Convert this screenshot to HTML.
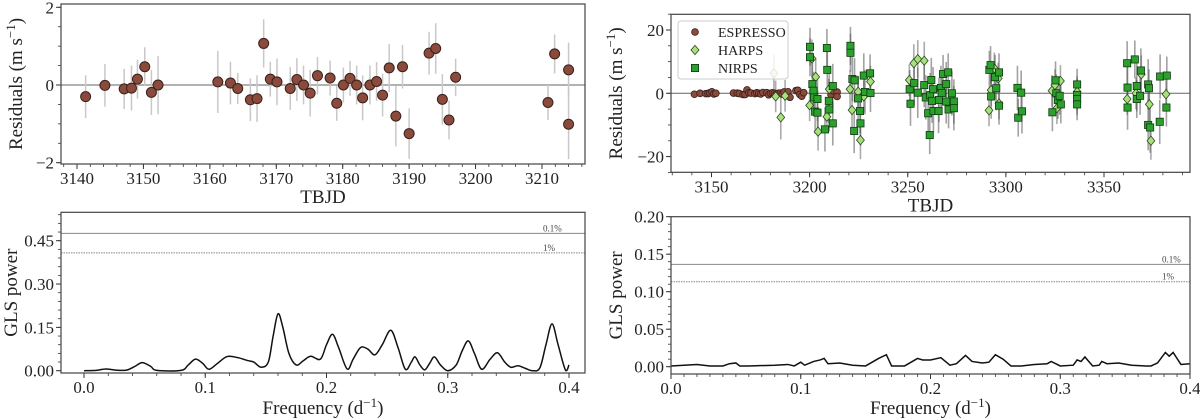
<!DOCTYPE html>
<html><head><meta charset="utf-8">
<style>
html,body{margin:0;padding:0;background:#fff;overflow:hidden;}
svg{display:block;font-family:"Liberation Serif","DejaVu Serif",serif;}
</style></head>
<body>
<svg id="fig" width="1200" height="420" viewBox="0 0 1200 420" xmlns="http://www.w3.org/2000/svg"></svg>
<script>
// ESPRESSO residuals
const espT=[3141.3,3144.2,3147.1,3148.2,3149.1,3150.2,3151.2,3152.2,3161.2,3163.1,3164.2,3166.1,3167.1,3168.1,3169.1,3170.1,3172.1,3173.1,3174.1,3175.1,3176.2,3178.1,3179.1,3180.1,3181.1,3182.1,3183.0,3184.1,3185.1,3186.0,3187.0,3188.0,3189.0,3190.0,3193.0,3194.0,3195.0,3196.0,3197.0,3210.9,3211.9,3214.0,3214.0];
const espR=[-0.30,-0.01,-0.10,-0.08,0.15,0.47,-0.19,0.0,0.08,0.05,-0.09,-0.38,-0.35,1.07,0.15,0.08,-0.09,0.14,0.0,-0.21,0.24,0.18,-0.47,0.0,0.17,0.0,-0.33,0.0,0.09,-0.26,0.44,-0.80,0.47,-1.25,0.82,0.94,-0.37,-0.90,0.20,-0.45,0.80,0.39,-1.01];
const espE=[0.55,0.55,0.52,0.58,0.5,0.5,0.58,0.75,0.8,0.55,0.4,0.55,0.6,0.62,0.45,0.6,0.55,0.55,0.5,0.6,0.48,0.45,0.45,0.45,0.45,0.5,0.58,0.5,0.5,0.55,0.62,0.78,0.56,0.65,0.55,0.65,0.65,0.5,0.48,0.45,0.5,0.7,0.9];
// HARPS residuals
const harpsT=[3181.8,3182.7,3185.3,3187.5,3200.0,3201.2,3203.1,3204.3,3208.8,3210.0,3220.6,3221.6,3224.7,3225.9,3227.6,3231.0,3250.8,3253.1,3255.1,3258.4,3291.4,3292.5,3294.1,3296.1,3296.5,3323.5,3325.0,3326.0,3327.8,3336.3,3361.8,3366.3,3369.0,3373.1,3373.9,3381.6];
const harpsR=[6.3,-1.0,-7.6,-0.8,-3.8,11.0,5.2,-12.1,-7.4,1.3,1.3,-5.3,0.5,-14.8,-1.0,3.7,4.2,9.5,10.8,10.3,-5.4,1.0,7.9,4.7,-3.2,0.8,2.6,-4.7,3.9,0.5,-1.8,0.0,6.0,-3.5,-15.0,-0.3];
const harpsE=[6,5,7,5,5,6,6,6,5,5,6,6,5,6,5,5,5,6,6,6,5,5,5,5,5,5,5,5,5,5,5,5,6,6,6,5];
// NIRPS residuals
const nirpsT=[3200.2,3200.2,3201.4,3202.0,3202.2,3202.8,3204.0,3204.0,3207.8,3208.8,3209.0,3209.8,3210.0,3211.8,3211.8,3220.8,3220.8,3221.8,3222.9,3222.7,3224.7,3225.7,3225.9,3227.6,3228.2,3230.8,3231.0,3251.0,3251.4,3253.3,3255.1,3258.4,3259.2,3260.4,3261.2,3261.4,3262.0,3262.4,3262.9,3263.1,3265.7,3265.9,3266.9,3267.3,3268.0,3269.6,3269.6,3270.6,3270.8,3272.5,3273.5,3273.5,3291.6,3292.2,3292.5,3294.5,3295.1,3296.5,3296.5,3305.9,3306.3,3307.8,3308.2,3323.7,3325.3,3325.7,3326.5,3327.4,3328.0,3336.3,3336.3,3336.3,3336.3,3361.8,3362.0,3362.0,3365.7,3366.7,3366.7,3368.4,3368.8,3372.5,3372.9,3372.5,3373.5,3378.4,3378.6,3382.0,3381.8];
const nirpsR=[14.7,11.4,2.9,0.8,-1.3,-5.8,-1.8,-6.1,-11.4,14.3,7.4,-2.4,-5.1,2.3,-9.5,15.0,12.8,4.5,4.1,-11.9,-1.6,-5.6,-9.5,5.6,0.4,6.3,0.1,1.3,-3.3,3.2,0.2,2.6,-1.3,-6.3,-13.2,-0.6,4.2,-2.4,1.3,-5.6,-5.6,-2.1,1.7,0.1,6.1,2.9,-2.6,6.6,-5.1,0.0,-2.6,-4.7,7.4,8.9,-1.0,5.1,1.6,6.6,-3.9,1.7,-7.7,0.2,-5.7,-6.0,4.1,0.0,-2.1,-0.8,-3.5,2.8,-0.5,-1.8,-3.5,9.5,1.8,-4.5,10.7,2.3,-1.8,-0.8,7.2,2.8,1.6,-10.0,-10.8,-9.0,5.3,5.6,-4.5];
const nirpsE=[6,6,7,6,6,7,7,7,7,6,7,7,7,7,7,6,6,7,7,7,7,7,7,7,7,6,6,6,7,7,8,7,7,7,6,7,7,7,7,7,7,7,7,7,6,7,7,6,6,7,7,7,6,6,7,7,7,6,6,7,6,7,7,6,6,6,6,6,6,5,5,5,5,7,7,7,6,8,6,6,7,8,6,8,8,7,7,6,6];
// GLS periodogram of ESPRESSO residuals
const freqL=[0,0.01,0.018,0.026,0.035,0.042,0.048,0.055,0.06,0.08,0.086,0.092,0.098,0.103,0.11,0.118,0.127,0.135,0.14,0.146,0.152,0.156,0.16,0.164,0.169,0.175,0.181,0.187,0.195,0.2,0.205,0.21,0.217,0.222,0.228,0.234,0.24,0.246,0.253,0.259,0.265,0.27,0.273,0.277,0.281,0.285,0.289,0.294,0.3,0.307,0.312,0.317,0.322,0.328,0.335,0.341,0.347,0.352,0.358,0.364,0.37,0.376,0.381,0.386,0.391,0.397,0.4];
const powL=[0,0.001,0.006,0.002,0.002,0.015,0.028,0.015,0.001,0.001,0.02,0.04,0.025,0.005,0.025,0.049,0.045,0.035,0.03,0.012,0.03,0.12,0.197,0.15,0.06,0.02,0.035,0.05,0.04,0.09,0.126,0.08,0.006,0.04,0.08,0.075,0.055,0.09,0.14,0.08,0.005,0.03,0.048,0.02,0.003,0.025,0.048,0.02,0.0,0.02,0.07,0.103,0.06,0.005,0.04,0.062,0.03,0.012,0.017,0.008,0.0,0.01,0.09,0.162,0.09,0.003,0.02];
const fapL=[0.4755,0.408];
// GLS periodogram of all residuals
const freqR=[0,0.01,0.02,0.03,0.04,0.045,0.05,0.053,0.06,0.08,0.09,0.095,0.1,0.103,0.11,0.115,0.118,0.121,0.13,0.14,0.15,0.16,0.166,0.17,0.18,0.19,0.194,0.2,0.208,0.215,0.22,0.227,0.232,0.24,0.245,0.25,0.256,0.262,0.27,0.28,0.29,0.293,0.3,0.31,0.313,0.316,0.319,0.325,0.33,0.332,0.336,0.345,0.355,0.365,0.37,0.375,0.381,0.384,0.387,0.393,0.4];
const powR=[0.001,0.002,0.003,0.001,0.001,0.004,0.005,0.001,0.001,0.002,0.003,0.001,0.006,0.002,0.007,0.009,0.011,0.004,0.005,0.002,0.001,0.011,0.016,0.001,0.001,0.011,0.009,0.009,0.012,0.002,0.004,0.015,0.007,0.005,0.006,0.016,0.01,0.001,0.001,0.003,0.004,0.007,0.001,0.002,0.009,0.007,0.013,0.001,0.002,0.007,0.004,0.005,0.002,0.001,0.001,0.005,0.019,0.014,0.019,0.003,0.004];
const fapR=[0.1365,0.1133];
const fapLabels=['0.1%','1%'];

const NS='http://www.w3.org/2000/svg';
const svg=document.getElementById('fig');
function mk(tag,attrs,parent){const e=document.createElementNS(NS,tag);for(const k in attrs)e.setAttribute(k,attrs[k]);(parent||svg).appendChild(e);return e;}
function lin(d0,d1,r0,r1){return v=>r0+(v-d0)*(r1-r0)/(d1-d0);}

function axes(p){
  const g=mk('g',{});
  
  
  const x=lin(p.xd[0],p.xd[1],p.xr[0],p.xr[1]);
  const y=lin(p.yd[0],p.yd[1],p.yr[0],p.yr[1]);
  const L=p.box[0],R=p.box[1],T=p.box[2],B=p.box[3];
  if(p.xminor){for(let v=p.xminor[0];v<=p.xminor[1]+1e-9;v+=p.xminor[2]){const px=x(v);if(px<L-0.5||px>R+0.5)continue;mk('line',{x1:px,x2:px,y1:B,y2:B+3,stroke:'#333','stroke-width':0.8},g);}}
  p.xticks.forEach((v,i)=>{const px=x(v);mk('line',{x1:px,x2:px,y1:B,y2:B+5,stroke:'#333','stroke-width':1},g);
    const t=mk('text',{x:px,y:B+20,'text-anchor':'middle','font-size':17,fill:'#222'},g);t.textContent=p.xlabels[i];
    
    });
  if(p.yminor){for(let v=p.yminor[0];v<=p.yminor[1]+1e-9;v+=p.yminor[2]){const py=y(v);if(py<T-0.5||py>B+0.5)continue;mk('line',{x1:L,x2:L-3,y1:py,y2:py,stroke:'#333','stroke-width':0.8},g);}}
  p.yticks.forEach((v,i)=>{const py=y(v);mk('line',{x1:L,x2:L-5,y1:py,y2:py,stroke:'#333','stroke-width':1},g);
    const t=mk('text',{x:L-7,y:py+6,'text-anchor':'end','font-size':17,fill:'#222'},g);t.textContent=p.ylabels[i];
    
    });
  const xt=mk('text',{x:(L+R)/2,y:B+p.xtdy,'text-anchor':'middle','font-size':19,fill:'#222'},g);xt.innerHTML=p.xtitle;
  
  
  const yt=mk('text',{x:0,y:0,'text-anchor':'middle','font-size':19,fill:'#222',transform:`translate(${p.ytx},${(T+B)/2}) rotate(-90)`},g);yt.innerHTML=p.ytitle;
  
  
  return {g,x,y,L,R,T,B};
}
function frame(a){const r=mk('rect',{x:a.L,y:a.T,width:a.R-a.L,height:a.B-a.T,fill:'none',stroke:'#444','stroke-width':1.2},a.g);
  
  }
function clip(a,id){const cp=mk('clipPath',{id});mk('rect',{x:a.L,y:a.T,width:a.R-a.L,height:a.B-a.T},cp);return `url(#${id})`;}
const YT='Residuals (m s<tspan dy="-7" font-size="13">−1</tspan><tspan dy="7">)</tspan>';
const FT='Frequency (d<tspan dy="-7" font-size="13">−1</tspan><tspan dy="7">)</tspan>';

// ---------- Top-left ----------
{
const a=axes({name:'espresso-residuals-panel',xd:[3140,3210],xr:[77,542],yd:[0,2],yr:[85,7.3],box:[61,585,4,164],
  xticks:[3140,3150,3160,3170,3180,3190,3200,3210],xlabels:['3140','3150','3160','3170','3180','3190','3200','3210'],xminor:[3138,3216,2],
  yticks:[-2,0,2],ylabels:['−2','0','2'],yminor:[-2,2,0.5],xtitle:'TBJD',xtdy:39,ytitle:YT,ytx:22});
const cg=mk('g',{'clip-path':clip(a,'c1')},a.g);
mk('line',{x1:a.L,x2:a.R,y1:a.y(0),y2:a.y(0),stroke:'#999','stroke-width':1.5},cg);
espT.forEach((t,i)=>{const l=mk('line',{x1:a.x(t),x2:a.x(t),y1:a.y(espR[i]-espE[i]),y2:a.y(espR[i]+espE[i]),stroke:'#c8c8c8','stroke-width':1.5},cg);
  
  });
espT.forEach((t,i)=>{const c=mk('circle',{cx:a.x(t),cy:a.y(espR[i]),r:5,fill:'#8a4a3c',stroke:'#3a201a','stroke-width':1},cg);
  
  });
frame(a);
}
// ---------- Top-right ----------
{
const a=axes({name:'all-residuals-panel',xd:[3150,3350],xr:[711.5,1104],yd:[0,20],yr:[93.3,30],box:[671,1190,14.3,172.3],
  xticks:[3150,3200,3250,3300,3350],xlabels:['3150','3200','3250','3300','3350'],xminor:[3130,3400,10],
  yticks:[-20,0,20],ylabels:['−20','0','20'],yminor:[-25,25,5],xtitle:'TBJD',xtdy:39,ytitle:YT,ytx:622});
const cg=mk('g',{'clip-path':clip(a,'c2')},a.g);
mk('line',{x1:a.L,x2:a.R,y1:a.y(0),y2:a.y(0),stroke:'#666','stroke-width':1},cg);
const eb=(T,R,E,col)=>T.forEach((t,i)=>{const l=mk('line',{x1:a.x(t),x2:a.x(t),y1:a.y(R[i]-E[i]),y2:a.y(R[i]+E[i]),stroke:col,'stroke-width':1.6,'stroke-opacity':0.55},cg);
  
  });
eb(espT,espR,espE,'#777');eb(harpsT,harpsR,harpsE,'#666');eb(nirpsT,nirpsR,nirpsE,'#555');
espT.forEach((t,i)=>{const c=mk('circle',{cx:a.x(t),cy:a.y(espR[i]),r:3.4,fill:'#8a4a3c',stroke:'#3a201a','stroke-width':0.8},cg);
  
  });
harpsT.forEach((t,i)=>{const cx=a.x(t),cy=a.y(harpsR[i]),s=4.6;const d=mk('polygon',{points:`${cx},${cy-s} ${cx+s*0.85},${cy} ${cx},${cy+s} ${cx-s*0.85},${cy}`,fill:'#a8e07f',stroke:'#2a4a1a','stroke-width':0.8},cg);
  
  });
nirpsT.forEach((t,i)=>{const cx=a.x(t),cy=a.y(nirpsR[i]),s=3.6;const q=mk('rect',{x:cx-s,y:cy-s,width:2*s,height:2*s,fill:'#2ca02c',stroke:'#0f3a0f','stroke-width':0.8},cg);
  
  });
const lg=mk('g',{},a.g);


mk('rect',{x:678,y:21,width:110,height:58,rx:3,fill:'#fff','fill-opacity':0.85,stroke:'#ccc','stroke-width':1},lg);
const names=['ESPRESSO','HARPS','NIRPS'];
names.forEach((n,i)=>{const yy=32+i*18;const e=mk('g',{},lg);
  
  
  const cx=695;
  if(i===0)mk('circle',{cx,cy:yy,r:3.4,fill:'#8a4a3c',stroke:'#3a201a','stroke-width':0.8},e);
  if(i===1)mk('polygon',{points:`${cx},${yy-4.6} ${cx+4},${yy} ${cx},${yy+4.6} ${cx-4},${yy}`,fill:'#a8e07f',stroke:'#2a4a1a','stroke-width':0.8},e);
  if(i===2)mk('rect',{x:cx-3.6,y:yy-3.6,width:7.2,height:7.2,fill:'#2ca02c',stroke:'#0f3a0f','stroke-width':0.8},e);
  const t=mk('text',{x:718,y:yy+5,'font-size':14,fill:'#222'},e);t.textContent=n;});
frame(a);
}
function smooth(pts){let d=`M${pts[0][0]},${pts[0][1]}`;for(let i=0;i<pts.length-1;i++){const p0=pts[Math.max(0,i-1)],p1=pts[i],p2=pts[i+1],p3=pts[Math.min(pts.length-1,i+2)];
  const c1=[p1[0]+(p2[0]-p0[0])/6,p1[1]+(p2[1]-p0[1])/6],c2=[p2[0]-(p3[0]-p1[0])/6,p2[1]-(p3[1]-p1[1])/6];
  d+=` C${c1[0]},${c1[1]} ${c2[0]},${c2[1]} ${p2[0]},${p2[1]}`;}return d;}
// ---------- Bottom-left ----------
{
const a=axes({name:'espresso-periodogram-panel',xd:[0,0.4],xr:[84,569],yd:[0,0.45],yr:[370.7,240.7],box:[61,585,212.3,373],
  xticks:[0,0.1,0.2,0.3,0.4],xlabels:['0.0','0.1','0.2','0.3','0.4'],xminor:[-0.02,0.42,0.02],
  yticks:[0,0.15,0.30,0.45],ylabels:['0.00','0.15','0.30','0.45'],yminor:[0,0.54,0.03],xtitle:FT,xtdy:41,ytitle:'GLS power',ytx:17});
fapL.forEach((v,i)=>{const l=mk('line',{x1:a.L,x2:a.R,y1:a.y(v),y2:a.y(v),stroke:'#888','stroke-width':1,'stroke-dasharray':i?'1.5,1':'none'},a.g);
  
  
  const t=mk('text',{x:543,y:a.y(v)-2,'font-size':9,fill:'#444'},a.g);t.textContent=fapLabels[i];});
const p=mk('path',{d:smooth(freqL.map((f,i)=>[a.x(f),a.y(powL[i])])),fill:'none',stroke:'#111','stroke-width':1.5},a.g);


frame(a);
}
// ---------- Bottom-right ----------
{
const a=axes({name:'all-periodogram-panel',xd:[0,0.4],xr:[671,1190],yd:[0,0.2],yr:[366.7,216.7],box:[671,1190,216.7,374],
  xticks:[0,0.1,0.2,0.3,0.4],xlabels:['0.0','0.1','0.2','0.3','0.4'],xminor:[0,0.4,0.01],
  yticks:[0,0.05,0.10,0.15,0.20],ylabels:['0.00','0.05','0.10','0.15','0.20'],yminor:[0,0.2,0.01],xtitle:FT,xtdy:40,ytitle:'GLS power',ytx:622});
fapR.forEach((v,i)=>{const l=mk('line',{x1:a.L,x2:a.R,y1:a.y(v),y2:a.y(v),stroke:'#888','stroke-width':1,'stroke-dasharray':i?'1.5,1':'none'},a.g);
  
  
  const t=mk('text',{x:1162,y:a.y(v)-2,'font-size':9,fill:'#444'},a.g);t.textContent=fapLabels[i];});
const p=mk('polyline',{points:freqR.map((f,i)=>`${a.x(f)},${a.y(powR[i])}`).join(' '),fill:'none',stroke:'#111','stroke-width':1.5},a.g);


frame(a);
}
</script>
</body></html>
